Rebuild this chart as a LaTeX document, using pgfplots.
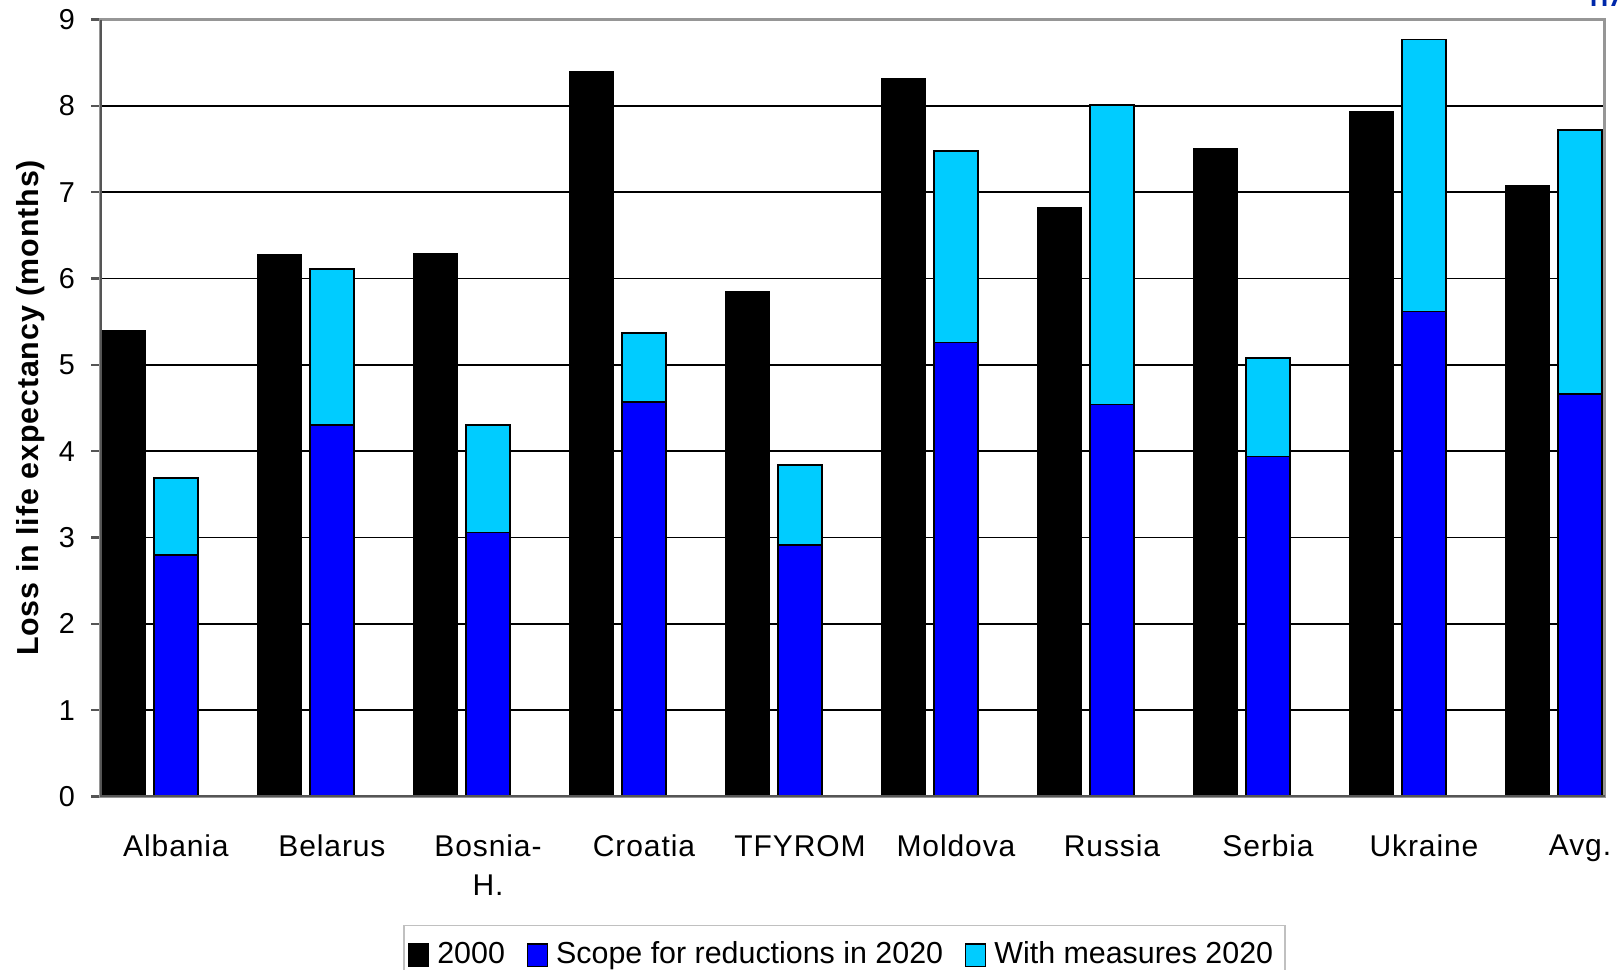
\documentclass[border=0pt]{standalone}
\usepackage{pgfplots}
\pgfplotsset{compat=1.18}
\usepackage{pgfplotstable}
\usepackage{fontspec}
\setmainfont{Liberation Sans}
\newfontfamily\spaced[LetterSpace=3]{Liberation Sans}
\definecolor{scope}{RGB}{0,0,255}
\definecolor{meas}{RGB}{0,204,255}
\definecolor{frame}{RGB}{150,150,150}
\definecolor{darkax}{RGB}{85,85,85}

% i = category index, total = top of the stacked bar
\pgfplotstableread{
i  y2000  scope  total
0  5.39   2.80   3.69
1  6.28   4.30   6.11
2  6.29   3.06   4.30
3  8.39   4.57   5.37
4  5.85   2.91   3.84
5  8.31   5.26   7.48
6  6.82   4.54   8.01
7  7.50   3.94   5.08
8  7.93   5.62   8.77
9  7.07   4.66   7.72
}\loss

\begin{document}
\begin{tikzpicture}
\begin{axis}[
  scale only axis, width=376.25pt, height=194.25pt,
  at={(0,0)}, anchor=south west,
  xmin=-0.487, xmax=9.16, ymin=0, ymax=9,
  ybar, bar width=11pt,
  ytick={0,...,9}, xtick={0,...,9}, ytick pos=left,
  xticklabels={Albania,Belarus,{Bosnia-\\H.},Croatia,TFYROM,Moldova,Russia,Serbia,Ukraine,Avg.},
  xticklabel style={align=center, font=\spaced\fontsize{7.5}{9.75}\selectfont, yshift=-3.9pt},
  x tick style={draw=none},
  y tick style={draw=darkax, line width=0.6pt},
  tick align=outside, major tick length=2.25pt,
  yticklabel style={font=\fontsize{7.2}{8}\selectfont, xshift=-0.5pt},
  /pgf/number format/assume math mode=true,
  ymajorgrids, grid style={black, line width=0.4pt},
  axis line style={draw=frame, line width=0.75pt},
  ylabel={Loss in life expectancy (months)},
  ylabel style={font=\bfseries\spaced\fontsize{7.6}{9}\selectfont, at={(axis description cs:-0.046,0.5)}, anchor=center},
  legend columns=3,
  legend style={at={(axis description cs:0.2013,0)}, yshift=-32.1pt, anchor=north west,
    draw=frame!60, line width=0.4pt, font=\fontsize{7.6}{9}\selectfont,
    inner xsep=1pt, inner ysep=2pt,
    /tikz/every even column/.append style={column sep=3.4pt}},
  legend image code/.code={\draw[#1, draw=black, line width=0.4pt] (0pt,-2.7pt) rectangle (5pt,2.9pt);},
]
\addlegendimage{fill=black}
\addlegendentry{2000}
\addlegendimage{fill=scope}
\addlegendentry{Scope for reductions in 2020\hspace{4.6pt}}
\addlegendimage{fill=meas}
\addlegendentry{With measures 2020\hspace{1pt}}

\addplot[forget plot, fill=black, draw=black, line width=0.4pt, bar shift=-13.1pt] table[x=i, y=y2000] {\loss};
\addplot[forget plot, fill=meas, draw=black, line width=0.4pt, bar shift=0pt] table[x=i, y=total] {\loss};
\addplot[forget plot, fill=scope, draw=black, line width=0.4pt, bar shift=0pt] table[x=i, y=scope] {\loss};

\draw[darkax, line width=0.75pt] (rel axis cs:0,1) -- (rel axis cs:0,0) -- (rel axis cs:1,0);
\end{axis}
\node[anchor=base west, inner sep=0pt, text={rgb,255:red,0;green,40;blue,170}, font=\fontsize{10}{12}\selectfont] at (372pt,197.4pt) {IIASA};
\pgfresetboundingbox
\path[use as bounding box] (-25pt,-43.375pt) rectangle (380.5pt,199.125pt);
\end{tikzpicture}
\end{document}
